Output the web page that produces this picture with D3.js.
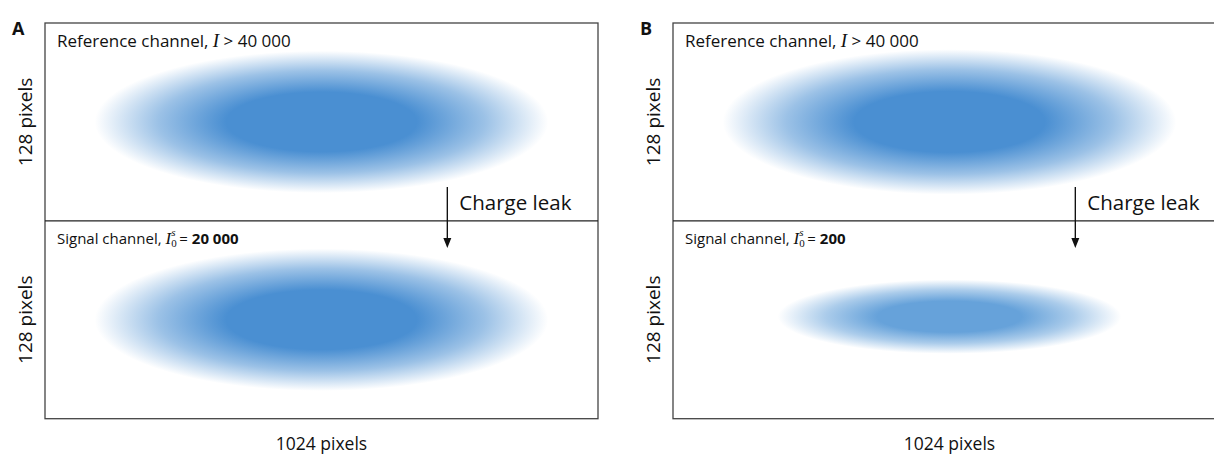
<!DOCTYPE html>
<html><head><meta charset="utf-8">
<script src="https://cdn.jsdelivr.net/npm/d3@7"></script>
<style>body{margin:0;background:#fff;overflow:hidden}svg{display:block}</style>
</head><body>
<svg id="c" width="1214" height="456"></svg>
<script>
// ---- data ----
const panels = ["A", "B"];
const channelNames = ["Reference channel", "Signal channel"];
const refIntensity = [40000, 40000];
const signalIntensity = [20000, 200];
const detectorWidthPx = 1024;
const channelHeightPx = 128;
// spot: [centerX, centerY, halfWidth, halfHeight] in detector pixels
const refSpots = [[512, 64, 420, 46], [512, 64, 420, 47]];
const sigSpots = [[512, 64, 420, 46], [512, 62, 318, 24]];
const spotColors = [["#4a8fd2", "#4a8fd2"], ["#4a8fd2", "#66a2da"]];
const xLabel = "1024 pixels";
const yLabel = "128 pixels";
const leakLabel = "Charge leak";

const fmt = v => d3.format(",")(v).replace(/,/g, " ");
const svg = d3.select("#c");
const defs = svg.append("defs");
const panelOffsets = [45, 673];
const frameTop = 23, frameBottom = 418.7, pw = 553;

panels.forEach((p, i) => {
  const x0 = panelOffsets[i];
  const x = d3.scaleLinear().domain([0, detectorWidthPx]).range([x0, x0 + pw]);
  const y = d3.scaleLinear().domain([0, 2 * channelHeightPx]).range([frameTop, frameBottom]);
  const g = svg.append("g");

  [0, 1].forEach(ch => {
    const gr = defs.append("radialGradient").attr("id", `g${i}${ch}`)
      .attr("cx", "50%").attr("cy", "50%").attr("r", "50%");
    const col = spotColors[ch][i];
    gr.append("stop").attr("offset", "0%").attr("stop-color", col).attr("stop-opacity", 1);
    gr.append("stop").attr("offset", "42%").attr("stop-color", col).attr("stop-opacity", 1);
    gr.append("stop").attr("offset", "72%").attr("stop-color", col).attr("stop-opacity", 0.55);
    gr.append("stop").attr("offset", "100%").attr("stop-color", col).attr("stop-opacity", 0);
  });

  const spots = [refSpots[i], sigSpots[i]];
  spots.forEach((s, ch) => {
    const yOff = ch * channelHeightPx;
    g.append("ellipse")
      .attr("cx", x(s[0])).attr("cy", y(s[1] + yOff))
      .attr("rx", x(s[2]) - x(0)).attr("ry", y(s[3]) - y(0))
      .attr("fill", `url(#g${i}${ch})`);
  });

  g.append("rect").attr("x", x(0)).attr("y", y(0)).attr("width", pw).attr("height", y(256) - y(0))
    .attr("fill", "none").attr("stroke", "#444").attr("stroke-width", 1.3);
  g.append("line").attr("x1", x(0)).attr("x2", x(1024)).attr("y1", y(128)).attr("y2", y(128))
    .attr("stroke", "#222").attr("stroke-width", 1.3);

  svg.append("text").attr("x", x0 - 33).attr("y", 35).text(p)
    .attr("font-family", "Open Sans, sans-serif").attr("font-weight", "bold").attr("font-size", 18).attr("fill", "#111");

  const t1 = svg.append("text").attr("x", x0 + 12).attr("y", 47)
    .attr("font-family", "Open Sans, sans-serif").attr("font-size", 17).attr("fill", "#111");
  t1.append("tspan").text(channelNames[0] + ", ");
  t1.append("tspan").text("I").attr("font-family", "Liberation Serif, serif").attr("font-style", "italic").attr("font-size", 19);
  t1.append("tspan").text(" > " + fmt(refIntensity[i]));

  const t2 = svg.append("text").attr("x", x0 + 12).attr("y", 244)
    .attr("font-family", "Open Sans, sans-serif").attr("font-size", 15).attr("fill", "#111");
  t2.append("tspan").text(channelNames[1] + ", ");
  t2.append("tspan").text("I").attr("font-family", "Liberation Serif, serif").attr("font-style", "italic").attr("font-size", 17);
  t2.append("tspan").text("0").attr("font-family", "Liberation Serif, serif").attr("font-size", 11).attr("dy", 3);
  t2.append("tspan").text("s").attr("font-family", "Liberation Serif, serif").attr("font-style", "italic").attr("font-size", 11).attr("dx", -5.5).attr("dy", -11);
  t2.append("tspan").text(" = ").attr("dy", 8);
  t2.append("tspan").text(fmt(signalIntensity[i])).attr("font-weight", "bold");

  const ax = x(745);
  g.append("line").attr("x1", ax).attr("x2", ax).attr("y1", 187).attr("y2", 240)
    .attr("stroke", "#111").attr("stroke-width", 1.4);
  g.append("path").attr("d", `M${ax - 4},238 L${ax + 4},238 L${ax},248 Z`).attr("fill", "#111");
  svg.append("text").attr("x", ax + 12).attr("y", 210).text(leakLabel)
    .attr("font-family", "Open Sans, sans-serif").attr("font-size", 20.5).attr("fill", "#111");

  svg.append("text").attr("x", x(512)).attr("y", 450).attr("text-anchor", "middle").text(xLabel)
    .attr("font-family", "Open Sans, sans-serif").attr("font-size", 17.5).attr("fill", "#111");
  [64, 192].forEach(v => {
    svg.append("text").attr("transform", `translate(${x0 - 20},${y(v)}) rotate(-90)`)
      .attr("text-anchor", "middle").attr("dy", "0.35em").text(yLabel)
      .attr("font-family", "Open Sans, sans-serif").attr("font-size", 19).attr("fill", "#111");
  });
});
</script>
</body></html>
